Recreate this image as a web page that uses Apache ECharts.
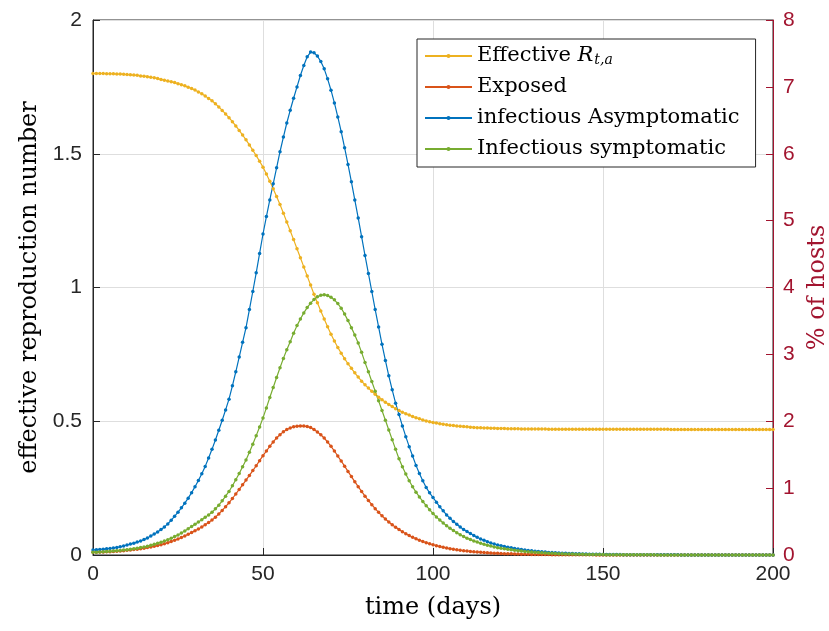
<!DOCTYPE html>
<html>
<head>
<meta charset="utf-8">
<title>effective reproduction number</title>
<script src="https://cdn.jsdelivr.net/npm/echarts@6/dist/echarts.min.js"></script>
<style>
  html, body { margin: 0; padding: 0; background: #fff; }
  #chart { width: 829px; height: 631px; }
</style>
</head>
<body>
<div id="chart"></div>
<script>
// day index 0..200 (x values)
var days = [];
for (var d = 0; d <= 200; d++) days.push(d);

// effective reproduction number (left axis)
var rt = [
  1.800,1.800,1.800,1.800,1.799,1.799,1.799,1.798,1.798,1.797,
  1.796,1.795,1.794,1.793,1.791,1.790,1.788,1.786,1.784,1.781,
  1.778,1.775,1.772,1.769,1.766,1.762,1.758,1.754,1.749,1.744,
  1.738,1.731,1.724,1.716,1.707,1.698,1.687,1.675,1.662,1.649,
  1.635,1.620,1.604,1.587,1.570,1.552,1.533,1.513,1.493,1.472,
  1.450,1.424,1.397,1.369,1.340,1.310,1.278,1.245,1.212,1.179,
  1.145,1.111,1.077,1.043,1.009,0.975,0.943,0.912,0.882,0.853,
  0.825,0.800,0.776,0.754,0.734,0.715,0.698,0.681,0.665,0.650,
  0.636,0.624,0.612,0.601,0.590,0.580,0.571,0.563,0.555,0.547,
  0.540,0.534,0.528,0.523,0.518,0.513,0.509,0.505,0.501,0.498,
  0.495,0.493,0.491,0.489,0.487,0.485,0.484,0.482,0.481,0.480,
  0.479,0.478,0.477,0.476,0.476,0.475,0.475,0.474,0.474,0.473,
  0.473,0.473,0.472,0.472,0.472,0.472,0.471,0.471,0.471,0.471,
  0.471,0.471,0.471,0.471,0.470,0.470,0.470,0.470,0.470,0.470,
  0.470,0.470,0.470,0.470,0.470,0.470,0.470,0.470,0.470,0.470,
  0.470,0.470,0.470,0.470,0.470,0.470,0.470,0.470,0.470,0.470,
  0.470,0.470,0.470,0.470,0.470,0.470,0.470,0.470,0.470,0.470,
  0.469,0.469,0.469,0.469,0.469,0.469,0.469,0.469,0.469,0.469,
  0.469,0.469,0.469,0.469,0.469,0.469,0.469,0.469,0.469,0.469,
  0.469,0.469,0.469,0.469,0.469,0.469,0.469,0.469,0.469,0.469,
  0.469
];

// % of hosts (right axis)
var exposed = [
  0.040,0.041,0.043,0.045,0.047,0.050,0.053,0.057,0.061,0.065,
  0.070,0.075,0.081,0.087,0.094,0.102,0.111,0.120,0.130,0.142,
  0.155,0.169,0.185,0.202,0.220,0.240,0.262,0.285,0.310,0.335,
  0.362,0.390,0.420,0.452,0.486,0.522,0.566,0.614,0.666,0.722,
  0.780,0.845,0.912,0.980,1.050,1.120,1.190,1.262,1.335,1.410,
  1.485,1.555,1.625,1.690,1.750,1.800,1.843,1.876,1.900,1.917,
  1.927,1.930,1.928,1.920,1.905,1.875,1.840,1.798,1.748,1.690,
  1.625,1.555,1.480,1.405,1.328,1.250,1.172,1.096,1.022,0.950,
  0.880,0.815,0.752,0.693,0.638,0.586,0.538,0.494,0.453,0.415,
  0.380,0.348,0.318,0.291,0.266,0.243,0.222,0.202,0.184,0.168,
  0.153,0.139,0.127,0.115,0.105,0.095,0.086,0.078,0.071,0.065,
  0.059,0.053,0.048,0.044,0.040,0.036,0.033,0.030,0.027,0.025,
  0.022,0.020,0.018,0.017,0.015,0.014,0.012,0.011,0.010,0.009,
  0.008,0.008,0.007,0.006,0.006,0.005,0.005,0.004,0.004,0.004,
  0.003,0.003,0.003,0.002,0.002,0.002,0.002,0.002,0.001,0.001,
  0.001,0.001,0.001,0.001,0.001,0.001,0.001,0.001,0.001,0.001,
  0.001,0.001,0.001,0.001,0.001,0.001,0.001,0.001,0.001,0.001,
  0,0,0,0,0,0,0,0,0,0,
  0,0,0,0,0,0,0,0,0,0,
  0,0,0,0,0,0,0,0,0,0,
  0
];

var asymptomatic = [
  0.075,0.079,0.083,0.087,0.092,0.098,0.105,0.113,0.122,0.135,
  0.150,0.163,0.177,0.193,0.210,0.230,0.255,0.283,0.313,0.345,
  0.380,0.420,0.465,0.520,0.578,0.640,0.705,0.775,0.850,0.932,
  1.020,1.115,1.215,1.325,1.450,1.580,1.720,1.865,2.015,2.170,
  2.330,2.530,2.740,2.960,3.180,3.400,3.670,3.940,4.220,4.510,
  4.800,5.060,5.310,5.550,5.790,6.030,6.250,6.460,6.650,6.830,
  7.000,7.170,7.320,7.450,7.520,7.510,7.460,7.380,7.270,7.120,
  6.950,6.760,6.550,6.330,6.090,5.840,5.580,5.310,5.040,4.760,
  4.480,4.210,3.940,3.670,3.410,3.150,2.910,2.680,2.470,2.270,
  2.100,1.930,1.770,1.620,1.480,1.340,1.220,1.110,1.010,0.930,
  0.860,0.790,0.720,0.660,0.600,0.550,0.500,0.460,0.420,0.380,
  0.350,0.320,0.290,0.265,0.240,0.220,0.200,0.180,0.165,0.150,
  0.140,0.128,0.117,0.107,0.098,0.090,0.082,0.075,0.068,0.062,
  0.057,0.052,0.047,0.043,0.039,0.036,0.033,0.030,0.027,0.025,
  0.023,0.021,0.019,0.017,0.016,0.014,0.013,0.012,0.011,0.010,
  0.009,0.008,0.008,0.007,0.006,0.006,0.005,0.005,0.004,0.004,
  0.004,0.003,0.003,0.003,0.003,0.002,0.002,0.002,0.002,0.002,
  0.002,0.002,0.002,0.001,0.001,0.001,0.001,0.001,0.001,0.001,
  0.001,0.001,0.001,0.001,0.001,0.001,0.001,0.001,0.001,0.001,
  0.001,0.001,0.001,0.001,0.001,0.001,0.001,0.001,0.001,0.001,
  0.001
];

var symptomatic = [
  0.040,0.042,0.045,0.048,0.051,0.055,0.059,0.064,0.069,0.074,
  0.080,0.087,0.094,0.102,0.111,0.120,0.132,0.145,0.159,0.174,
  0.190,0.209,0.229,0.251,0.275,0.300,0.330,0.360,0.392,0.425,
  0.460,0.492,0.526,0.563,0.600,0.640,0.690,0.745,0.810,0.880,
  0.950,1.035,1.125,1.220,1.320,1.420,1.535,1.655,1.785,1.915,
  2.050,2.200,2.355,2.505,2.655,2.800,2.940,3.070,3.190,3.315,
  3.430,3.530,3.620,3.700,3.765,3.820,3.860,3.885,3.890,3.880,
  3.855,3.815,3.760,3.690,3.605,3.505,3.400,3.290,3.170,3.030,
  2.880,2.740,2.595,2.450,2.305,2.160,2.015,1.870,1.725,1.580,
  1.440,1.320,1.210,1.110,1.020,0.940,0.868,0.800,0.737,0.678,
  0.620,0.570,0.523,0.479,0.438,0.400,0.366,0.334,0.304,0.276,
  0.250,0.230,0.211,0.193,0.176,0.160,0.146,0.133,0.121,0.110,
  0.100,0.092,0.085,0.078,0.071,0.065,0.059,0.054,0.049,0.044,
  0.040,0.036,0.033,0.030,0.027,0.025,0.022,0.020,0.018,0.016,
  0.015,0.014,0.012,0.011,0.010,0.009,0.008,0.008,0.007,0.006,
  0.006,0.005,0.005,0.004,0.004,0.004,0.003,0.003,0.003,0.003,
  0.002,0.002,0.002,0.002,0.002,0.002,0.001,0.001,0.001,0.001,
  0.001,0.001,0.001,0.001,0.001,0.001,0.001,0.001,0.001,0.001,
  0.001,0.001,0.001,0.001,0.001,0.001,0.001,0.001,0.001,0.001,
  0.001,0.001,0.001,0.001,0.001,0.001,0.001,0.001,0.001,0.001,
  0.001
];

var names = ['Effective Rt,a', 'Exposed', 'infectious Asymptomatic', 'Infectious symptomatic'];
var colors = ['#EDB120', '#D95319', '#0072BD', '#77AC30'];

function pairs(arr) {
  return arr.map(function (v, i) { return [days[i], v]; });
}

var serif = 'DejaVu Serif';
var sans = 'Liberation Sans';
var darkRed = '#A2142F';

var chart = echarts.init(document.getElementById('chart'), null, { renderer: 'canvas' });

function makeSeries(idx, arr, axis) {
  return {
    name: names[idx],
    type: 'line',
    yAxisIndex: axis,
    data: pairs(arr),
    symbol: 'circle',
    symbolSize: 3.5,
    showSymbol: true,
    showAllSymbol: true,
    lineStyle: { color: colors[idx], width: 1.2 },
    itemStyle: { color: colors[idx] },
    emphasis: { disabled: true }
  };
}

var option = {
  backgroundColor: '#ffffff',
  animation: false,
  grid: {
    left: 93, right: 56, top: 20, bottom: 76,
    outerBoundsMode: 'none',
    containLabel: false,
    show: true, borderColor: '#262626', borderWidth: 1
  },
  legend: {
    orient: 'vertical',
    left: 417, top: 39,
    padding: [5, 16, 6, 7],
    itemWidth: 47, itemHeight: 5, itemGap: 7,
    backgroundColor: '#ffffff',
    borderColor: '#262626', borderWidth: 1,
    data: names,
    formatter: function (name) {
      if (name === names[0]) return '{n|Effective }{i|R}{s|t,a}';
      return name;
    },
    textStyle: {
      fontFamily: serif, fontSize: 21, color: '#000', lineHeight: 24,
      rich: {
        n: { fontFamily: serif, fontSize: 21, lineHeight: 24, color: '#000' },
        i: { fontFamily: serif, fontSize: 21, lineHeight: 24, fontStyle: 'italic', color: '#000' },
        s: { fontFamily: serif, fontSize: 14, lineHeight: 24, fontStyle: 'italic', color: '#000', padding: [9, 0, 0, 1] }
      }
    }
  },
  xAxis: {
    type: 'value', min: 0, max: 200, interval: 50,
    name: 'time (days)', nameLocation: 'middle', nameGap: 41,
    nameTextStyle: { fontFamily: serif, fontSize: 24, color: '#000' },
    axisLine: { lineStyle: { color: '#262626', width: 1 } },
    axisTick: { inside: true, length: 7, lineStyle: { color: '#262626' } },
    axisLabel: { fontFamily: sans, fontSize: 21, color: '#262626', margin: 9 },
    splitLine: { show: true, lineStyle: { color: '#dedede', width: 1 } }
  },
  yAxis: [{
    type: 'value', min: 0, max: 2, interval: 0.5, position: 'left',
    name: 'effective reproduction number', nameLocation: 'middle', nameGap: 51,
    nameTextStyle: { fontFamily: serif, fontSize: 24, color: '#000' },
    axisLine: { show: true, lineStyle: { color: '#262626', width: 1 } },
    axisTick: { show: true, inside: true, length: 7, lineStyle: { color: '#262626' } },
    axisLabel: { fontFamily: sans, fontSize: 21, color: '#262626', margin: 11 },
    splitLine: { show: true, lineStyle: { color: '#dedede', width: 1 } }
  }, {
    type: 'value', min: 0, max: 8, interval: 1, position: 'right',
    name: '% of hosts', nameLocation: 'middle', nameGap: 23, nameRotate: 90,
    nameTextStyle: { fontFamily: serif, fontSize: 24, color: darkRed },
    axisLine: { show: true, lineStyle: { color: darkRed, width: 1 } },
    axisTick: { show: true, inside: true, length: 7, lineStyle: { color: darkRed } },
    axisLabel: { fontFamily: sans, fontSize: 21, color: darkRed, margin: 10 },
    splitLine: { show: false }
  }],
  series: [
    makeSeries(0, rt, 0),
    makeSeries(1, exposed, 1),
    makeSeries(2, asymptomatic, 1),
    makeSeries(3, symptomatic, 1)
  ]
};

chart.setOption(option);
</script>
</body>
</html>
